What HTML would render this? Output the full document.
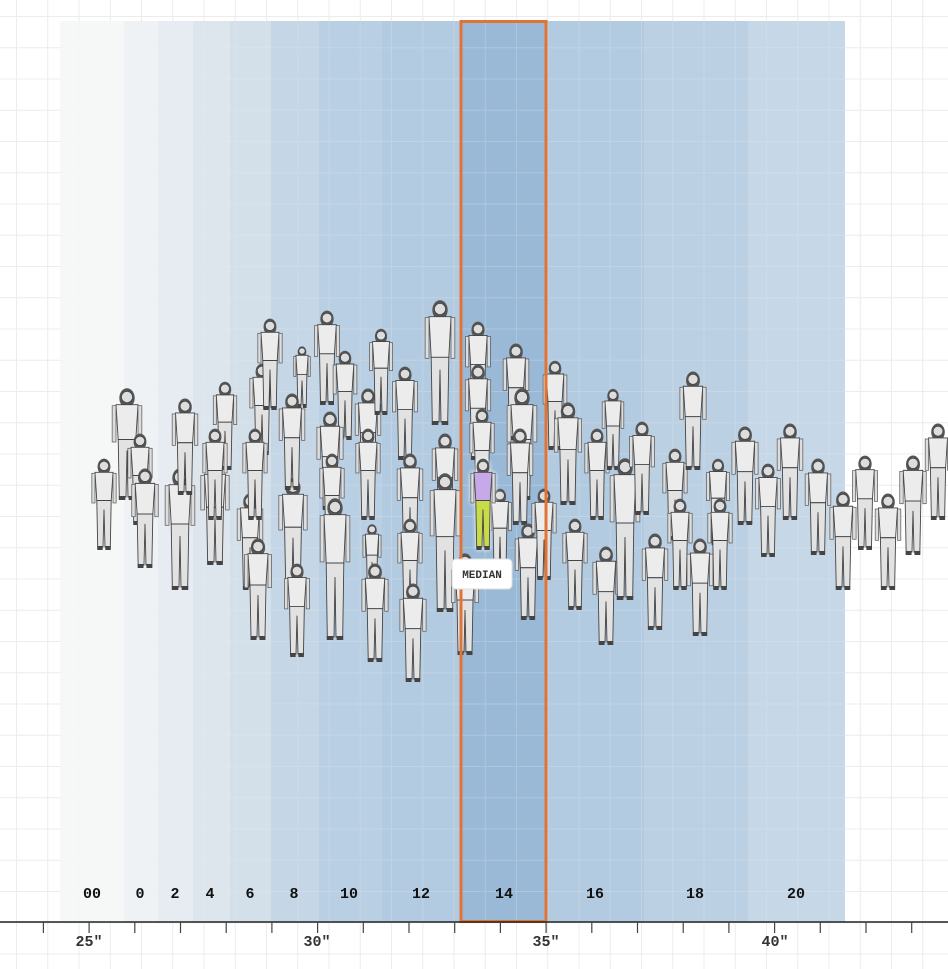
<!DOCTYPE html>
<html><head><meta charset="utf-8"><style>
html,body{margin:0;padding:0;background:#fff;}
body{width:948px;height:969px;overflow:hidden;position:relative;}
svg{position:absolute;left:0;top:0;}
text{font-family:"Liberation Mono","DejaVu Sans Mono",monospace;font-weight:bold;}
</style></head><body>
<svg id="s" width="948" height="969" viewBox="0 0 948 969" xmlns="http://www.w3.org/2000/svg">
<defs>
<pattern id="g" x="16" y="16" width="31.25" height="31.25" patternUnits="userSpaceOnUse">
<path d="M0 0H31.25M0 0V31.25" stroke="#ececec" stroke-width="2" fill="none"/>
</pattern>
</defs>
<rect width="948" height="969" fill="#fff"/>
<rect width="948" height="969" fill="url(#g)"/>
<g>
<rect x="60" y="21" width="64" height="901" fill="#f6f8f8"/>
<rect x="124" y="21" width="34" height="901" fill="#eef2f5"/>
<rect x="158" y="21" width="35" height="901" fill="#e6ecf2"/>
<rect x="193" y="21" width="37" height="901" fill="#dde6ed"/>
<rect x="230" y="21" width="41" height="901" fill="#d3e0ea"/>
<rect x="271" y="21" width="48" height="901" fill="#c5d6e6"/>
<rect x="319" y="21" width="63" height="901" fill="#b9cfe3"/>
<rect x="382" y="21" width="78" height="901" fill="#b3cbe1"/>
<rect x="460" y="21" width="87" height="901" fill="#9ab9d7"/>
<rect x="547" y="21" width="97" height="901" fill="#b3cbe1"/>
<rect x="644" y="21" width="104" height="901" fill="#bbd0e3"/>
<rect x="748" y="21" width="97" height="901" fill="#c6d8e7"/>
</g>
<rect width="948" height="969" fill="url(#g)" opacity="0.25"/>
<g id="figs"></g>
<rect x="461" y="21.5" width="85" height="900" fill="none" stroke="#e07436" stroke-width="3"/>
<rect x="452" y="559" width="60" height="30" rx="4" fill="#fff" stroke="#ddd"/>
<text x="482" y="578" font-size="11" text-anchor="middle" fill="#333">MEDIAN</text>
<g font-size="15" text-anchor="middle" fill="#111">
<text x="92" y="898">00</text><text x="140" y="898">0</text><text x="175" y="898">2</text>
<text x="210" y="898">4</text><text x="250" y="898">6</text><text x="294" y="898">8</text>
<text x="349" y="898">10</text><text x="421" y="898">12</text><text x="504" y="898">14</text>
<text x="595" y="898">16</text><text x="695" y="898">18</text><text x="796" y="898">20</text>
</g>
<line x1="0" y1="922" x2="948" y2="922" stroke="#222" stroke-width="1.5"/>
<g id="ticks" stroke="#444" stroke-width="1.2"></g>
<g font-size="15" text-anchor="middle" fill="#333">
<text x="89" y="946">25"</text><text x="317" y="946">30"</text><text x="546" y="946">35"</text><text x="775" y="946">40"</text>
</g>
</svg>
<script>
var NS="http://www.w3.org/2000/svg";
var t=document.getElementById("ticks");
for(var x=43.4;x<948;x+=45.7){var l=document.createElementNS(NS,"line");
l.setAttribute("x1",x);l.setAttribute("x2",x);l.setAttribute("y1",922);l.setAttribute("y2",933);t.appendChild(l);}
var F=[[104,460,550],[127,390,500],[140,435,525],[145,470,568],[180,470,590],[185,400,495],[215,460,565],[225,383,470],[215,430,520],[250,495,590],[258,540,640],[262,365,455],[270,320,410],[255,430,520],[293,480,585],[297,565,657],[302,347,408],[292,395,490],[327,312,405],[345,352,440],[330,413,510],[332,455,545],[335,500,640],[368,390,485],[368,430,520],[372,525,592],[375,565,662],[381,330,415],[405,368,460],[410,455,550],[410,520,610],[413,585,682],[440,302,425],[445,435,530],[445,475,612],[465,555,655],[478,323,415],[478,366,460],[482,410,500],[500,490,575],[516,345,440],[522,390,500],[520,430,525],[528,525,620],[544,490,580],[555,362,450],[568,404,505],[575,520,610],[597,430,520],[606,548,645],[613,390,470],[625,460,600],[642,423,515],[655,535,630],[675,450,540],[680,500,590],[693,373,470],[700,540,636],[718,460,545],[720,500,590],[745,428,525],[768,465,557],[790,425,520],[818,460,555],[843,493,590],[865,457,550],[888,495,590],[913,457,555],[938,425,520],[483,460,550,1]];
var g=document.getElementById("figs");
F.forEach(function(f){var cx=f[0],y0=f[1],y1=f[2],h=y1-y0,hl=f[3];
var s='';var hr=Math.min(h*0.065,7),hy=y0+hr;var sw=Math.min(h*0.1,11);
var bc=hl?'#c7a8e8':'#ececec',lc=hl?'#c8dc4a':'#e2e2e2';
s+='<ellipse cx="'+cx+'" cy="'+(hy+1)+'" rx="'+(hr*1.1)+'" ry="'+(hr*1.4)+'" fill="#555"/>';
s+='<circle cx="'+cx+'" cy="'+hy+'" r="'+hr*0.8+'" fill="#ddd" stroke="#444" stroke-width="0.8"/>';
var ty=y0+hr*2.1,tb=y0+h*0.45;
s+='<path d="M'+(cx-sw)+' '+ty+' L'+(cx+sw)+' '+ty+' L'+(cx+sw*0.8)+' '+tb+' L'+(cx-sw*0.8)+' '+tb+' Z" fill="'+bc+'" stroke="#444" stroke-width="0.9"/>';
s+='<path d="M'+(cx-sw*0.8)+' '+tb+' L'+(cx+sw*0.8)+' '+tb+' L'+(cx+sw*0.7)+' '+(y1-3)+' L'+(cx+1)+' '+(y1-3)+' L'+cx+' '+(tb+h*0.1)+' L'+(cx-1)+' '+(y1-3)+' L'+(cx-sw*0.7)+' '+(y1-3)+' Z" fill="'+lc+'" stroke="#444" stroke-width="0.9"/>';
s+='<rect x="'+(cx-sw*1.35)+'" y="'+(ty+1)+'" width="'+(sw*0.35)+'" height="'+(h*0.33)+'" fill="#ddd" stroke="#555" stroke-width="0.7"/>';
s+='<rect x="'+(cx+sw)+'" y="'+(ty+1)+'" width="'+(sw*0.35)+'" height="'+(h*0.33)+'" fill="#ddd" stroke="#555" stroke-width="0.7"/>';
s+='<rect x="'+(cx-sw*0.75)+'" y="'+(y1-4)+'" width="'+(sw*0.6)+'" height="4" fill="#444"/><rect x="'+(cx+sw*0.15)+'" y="'+(y1-4)+'" width="'+(sw*0.6)+'" height="4" fill="#444"/>';
var gg=document.createElementNS(NS,"g");gg.innerHTML=s;if(hl){gg.setAttribute("style","filter:drop-shadow(0 0 2px #fff)");}g.appendChild(gg);});
</script>
</body></html>
